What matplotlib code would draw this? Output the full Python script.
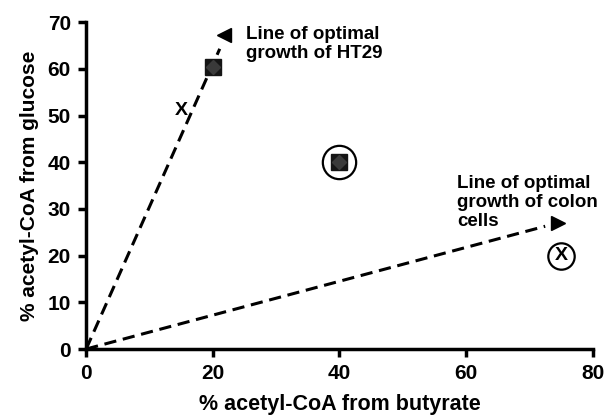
import matplotlib.pyplot as plt

plt.rcParams['font.family'] = ['Liberation Sans', 'DejaVu Sans']
plt.rcParams['font.weight'] = 'bold'

# measured points
sq_x = [20, 40]
sq_y = [60.5, 40]
x_pts_x = [15, 75]
x_pts_y = [51, 20]
circ_x = [40, 75]
circ_y = [40, 20]
circ_size = [24, 19]

# lines of optimal growth (start, end of dashes), arrow heads
ht29_line = [(0, 0), (21.1, 64.3)]
colon_line = [(0, 0), (72.5, 26.3)]
head_x = [21.8, 74.5]
head_y = [67.3, 26.9]
head_marker = ['<', '>']

fig = plt.figure(figsize=(6.11, 4.19), dpi=100)
ax = fig.add_axes([0.141, 0.167, 0.829, 0.78])

for start, end in [ht29_line, colon_line]:
    ax.plot([start[0], end[0]], [start[1], end[1]], color='black', lw=2.2,
            linestyle=(0, (4, 2.2)), clip_on=False, zorder=2)
for hx, hy, m in zip(head_x, head_y, head_marker):
    ax.plot(hx, hy, marker=m, color='black', markersize=10, clip_on=False, zorder=2)

ax.plot(sq_x, sq_y, 's', color='#151515', markersize=12, zorder=3)
ax.plot(sq_x, sq_y, 'D', color='#3a3a3a', markersize=7, zorder=4)
for cx, cy, s in zip(circ_x, circ_y, circ_size):
    ax.plot(cx, cy, 'o', mfc='none', mec='black', mew=1.6, markersize=s, zorder=3)
for px, py in zip(x_pts_x, x_pts_y):
    ax.text(px, py, 'X', ha='center', va='center', fontsize=14, fontweight='bold', zorder=5)

ax.text(25.2, 65.4, 'Line of optimal\ngrowth of HT29', fontsize=13.5, fontweight='bold',
        va='center', ha='left', linespacing=1.15)
ax.text(58.6, 31.3, 'Line of optimal\ngrowth of colon\ncells', fontsize=13.5, fontweight='bold',
        va='center', ha='left', linespacing=1.15)

ax.set_xlim(0, 80)
ax.set_ylim(0, 70)
ax.set_xticks([0, 20, 40, 60, 80])
ax.set_yticks(range(0, 71, 10))
for s in ['top', 'right']:
    ax.spines[s].set_visible(False)
for s in ['left', 'bottom']:
    ax.spines[s].set_linewidth(2.5)
ax.tick_params(width=2.5, length=6, labelsize=15, pad=5)
for lab in ax.get_xticklabels() + ax.get_yticklabels():
    lab.set_fontweight('bold')
ax.set_xlabel('% acetyl-CoA from butyrate', fontsize=15.5, fontweight='bold', labelpad=8)
ax.set_ylabel('% acetyl-CoA from glucose', fontsize=15, fontweight='bold', labelpad=6)

fig.savefig('out.png', dpi=100)
